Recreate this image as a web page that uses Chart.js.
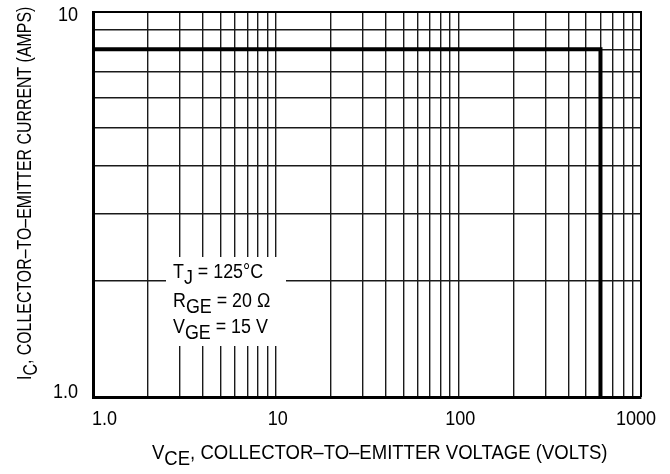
<!DOCTYPE html>
<html><head><meta charset="utf-8">
<script src="https://cdn.jsdelivr.net/npm/chart.js@4/dist/chart.umd.min.js"></script>
<style>html,body{margin:0;padding:0;background:#fff;}#wrap{width:670px;height:474px;}</style>
</head><body><div id="wrap"><canvas id="c" width="670" height="474"></canvas></div>
<script>
// ---- data ----
const vceVolts = [1, 600, 600];
const icAmps = [8, 8, 1];
const xGridValues = [1,2,3,4,5,6,7,8,9,10,20,30,40,50,60,70,80,90,100,200,300,400,500,600,700,800,900,1000];
const yGridValues = [1,2,3,4,5,6,7,8,9,10];
const xTickValues = [1, 10, 100, 1000];
const xTickLabels = ['1.0', '10', '100', '1000'];
const yTickValues = [1, 10];
const yTickLabels = ['1.0', '10'];
const xTitleParts = [['V', false], ['CE', true], [', COLLECTOR\u2013TO\u2013EMITTER VOLTAGE (VOLTS)', false]];
const yTitleParts = [['I', false], ['C', true], [', COLLECTOR\u2013TO\u2013EMITTER CURRENT (AMPS)', false]];
const noteLines = [
  [['T', false], ['J', true], [' = 125\u00B0C', false]],
  [['R', false], ['GE', true], [' = 20 \u03A9', false]],
  [['V', false], ['GE', true], [' = 15 V', false]]
];

// ---- font pick (narrow face if available, else squeezed Liberation Sans) ----
const FONT = (function () {
  const c = document.createElement('canvas').getContext('2d');
  const s = 'COLLECTOR TO EMITTER 0123';
  c.font = '20px monospace'; const m1 = c.measureText(s).width;
  c.font = '20px "Liberation Sans Narrow", monospace'; const m2 = c.measureText(s).width;
  if (Math.abs(m1 - m2) > 0.5) return { family: '"Liberation Sans Narrow"', sx: 1, size: 20 };
  return { family: '"Liberation Sans", Arial, sans-serif', sx: 0.82, size: 20 };
})();
const SUB = 6;

function drawRich(ctx, parts, x, y, align, sx, rot) {
  ctx.save();
  ctx.translate(x, y);
  if (rot) ctx.rotate(rot);
  ctx.scale(FONT.sx * sx, 1);
  ctx.font = FONT.size + 'px ' + FONT.family;
  ctx.fillStyle = '#000';
  ctx.textBaseline = 'alphabetic';
  ctx.textAlign = 'left';
  const total = parts.reduce((w, p) => w + ctx.measureText(p[0]).width, 0);
  let cx = align === 'right' ? -total : (align === 'center' ? -total / 2 : 0);
  for (const [t, sub] of parts) {
    ctx.fillText(t, cx, sub ? SUB : 0);
    cx += ctx.measureText(t).width;
  }
  ctx.restore();
}

const decor = {
  id: 'decor',
  beforeDatasetsDraw(chart) {
    const { ctx, chartArea: a } = chart;
    ctx.save();
    ctx.fillStyle = '#fff';
    ctx.fillRect(166, 257, 120, 89);
    ctx.strokeStyle = '#000';
    ctx.lineWidth = 2;
    ctx.beginPath();
    ctx.moveTo(a.left, a.top);
    ctx.lineTo(a.right, a.top);
    ctx.lineTo(a.right, a.bottom);
    ctx.stroke();
    ctx.restore();
  },
  afterDraw(chart) {
    const ctx = chart.ctx;
    const xs = chart.scales.x, ys = chart.scales.y;
    const HS = 1.1;
    xTickValues.forEach((v, i) => {
      const p = xs.getPixelForValue(v);
      if (i === 0) drawRich(ctx, [[xTickLabels[i], false]], p - 1, 425, 'left', HS);
      else if (i === xTickValues.length - 1) drawRich(ctx, [[xTickLabels[i], false]], p - 5, 425, 'center', HS);
      else drawRich(ctx, [[xTickLabels[i], false]], p + 2, 425, 'center', HS);
    });
    yTickValues.forEach((v, i) => {
      const p = ys.getPixelForValue(v);
      const dy = i === 0 ? 1 : 9;
      drawRich(ctx, [[yTickLabels[i], false]], 78, p + dy, 'right', HS);
    });
    drawRich(ctx, xTitleParts, 152, 459, 'left', 1.13);
    drawRich(ctx, yTitleParts, 31, 380, 'left', 0.97, -Math.PI / 2);
    const bases = [278, 306.5, 333];
    noteLines.forEach((ln, i) => drawRich(ctx, ln, 173, bases[i], 'left', 1.09));
  }
};

new Chart(document.getElementById('c').getContext('2d'), {
  type: 'scatter',
  data: {
    datasets: [{
      data: vceVolts.map((x, i) => ({ x: x, y: icAmps[i] })),
      showLine: true,
      borderColor: '#000',
      backgroundColor: '#000',
      borderWidth: 4,
      pointRadius: 0,
      tension: 0,
      fill: false,
      borderCapStyle: 'butt',
      borderJoinStyle: 'miter'
    }]
  },
  options: {
    responsive: false,
    animation: false,
    devicePixelRatio: 1,
    layout: { padding: { top: 12, right: 29, left: 0, bottom: 0 } },
    plugins: { legend: { display: false }, tooltip: { enabled: false } },
    scales: {
      x: {
        type: 'logarithmic', min: 1, max: 1000, position: 'bottom',
        afterBuildTicks: s => { s.ticks = xGridValues.map(v => ({ value: v })); },
        afterFit: s => { s.height = 77; },
        ticks: { display: false },
        grid: { color: '#1a1a1a', lineWidth: 1.4, drawTicks: false, tickLength: 0 },
        border: { display: true, color: '#000', width: 3 }
      },
      y: {
        type: 'logarithmic', min: 1, max: 10, position: 'left',
        afterBuildTicks: s => { s.ticks = yGridValues.map(v => ({ value: v })); },
        afterFit: s => { s.width = 93; },
        ticks: { display: false },
        grid: { color: '#1a1a1a', lineWidth: 1.4, drawTicks: false, tickLength: 0 },
        border: { display: true, color: '#000', width: 3 }
      }
    }
  },
  plugins: [decor]
});
</script>
</body></html>
